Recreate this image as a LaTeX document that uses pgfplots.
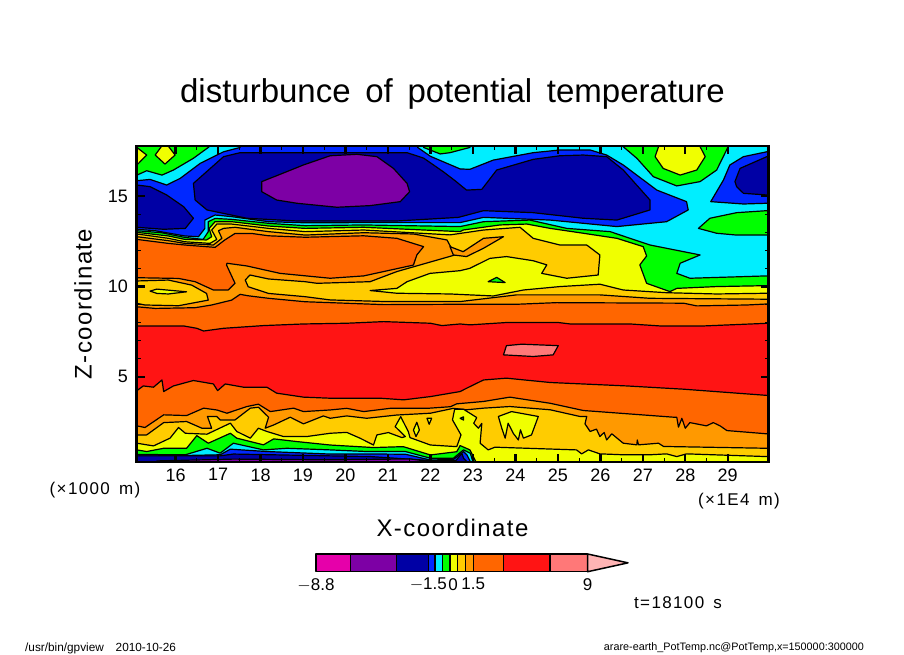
\documentclass[border=0pt]{standalone}
\usepackage{fontspec}
\setmainfont{Liberation Sans}
\newfontfamily\titlefont[WordSpace=1.6]{Liberation Sans}
\newfontfamily\labelfont[LetterSpace=6,WordSpace=1.5]{Liberation Sans}
\newfontfamily\notefont[LetterSpace=8,WordSpace=1.5]{Liberation Sans}
\usepackage{pgfplots}
\pgfplotsset{compat=1.18}
\definecolor{cMag}{HTML}{E600AA}
\definecolor{cPur}{HTML}{7D00A5}
\definecolor{cNav}{HTML}{0000A5}
\definecolor{cBlu}{HTML}{0028FF}
\definecolor{cCya}{HTML}{00EEFF}
\definecolor{cGre}{HTML}{00FF00}
\definecolor{cYel}{HTML}{F0FF00}
\definecolor{cGol}{HTML}{FFCC00}
\definecolor{cAmb}{HTML}{FF9900}
\definecolor{cOra}{HTML}{FF6600}
\definecolor{cRed}{HTML}{FF1414}
\definecolor{cSal}{HTML}{FF7878}
\definecolor{cPin}{HTML}{FFB4B4}
\pgfplotsset{cell/.style={fill=#1,draw=black,line width=1.2pt,mark=none,line join=round}}
\begin{document}
\begin{tikzpicture}[x=1pt,y=1pt]
\path[use as bounding box] (0,0) rectangle (904,654);
\begin{axis}[
  at={(136.5pt,192pt)},anchor=south west,
  scale only axis,width=632pt,height=316pt,
  xmin=15.08,xmax=29.96,ymin=0.28,ymax=17.77,
  axis on top,
  axis line style={line width=2.6pt,black},
  xtick={16,17,18,19,20,21,22,23,24,25,26,27,28,29},
  ytick={5,10,15},
  minor x tick num=1,minor y tick num=4,
  tick align=inside,xtick pos=both,ytick pos=both,
  major tick length=8pt,minor tick length=4pt,
  major tick style={line width=2.4pt,black},
  minor tick style={line width=1pt,black},
  /pgf/number format/assume math mode=true,
  tick label style={font=\fontsize{18}{18}\selectfont},
  xticklabel style={yshift=-3pt},
  yticklabel style={xshift=-5pt},
  title={\titlefont\fontsize{33}{33}\selectfont disturbunce of potential temperature},
  title style={at={(axis description cs:0.5,1.146)},anchor=center},
  xlabel={\labelfont\fontsize{24}{24}\selectfont X-coordinate},
  xlabel style={at={(axis description cs:0.5,-0.209)},anchor=center},
  ylabel={\labelfont\fontsize{24}{24}\selectfont Z-coordinate},
  ylabel style={at={(axis description cs:-0.0847,0.5)},anchor=center,rotate=0},
]
% red background band
\addplot[cell=cRed] coordinates {(14.9,0)(30.2,0)(30.2,18)(14.9,18)} --cycle;
% upper half, warm to cold
\addplot[cell=cOra] coordinates {(14.9,7.81)(15.09,7.81)(16.19,7.81)(16.50,7.68)(16.66,7.53)(17.13,7.68)(18.07,7.83)(19.01,7.92)(20.03,7.96)(20.90,8.05)(22.00,7.96)(22.27,7.83)(22.70,7.92)(22.93,7.87)(23.79,8.00)(25.01,8.00)(25.29,7.92)(26.70,7.92)(27.41,7.81)(28.43,7.81)(29.96,7.96)(30.2,7.96)(30.2,18)(14.9,18)} --cycle;
\addplot[cell=cAmb] coordinates {(14.9,8.87)(15.09,8.87)(15.52,8.78)(16.46,8.82)(16.85,8.97)(17.32,9.24)(17.52,9.56)(17.71,9.48)(18.19,9.34)(19.05,9.15)(19.64,9.10)(20.90,8.99)(22.70,9.01)(24.03,9.01)(24.97,9.10)(27.96,9.07)(28.27,8.92)(29.45,8.97)(29.96,9.03)(30.2,9.03)(30.2,18)(14.9,18)} --cycle;
\addplot[cell=cOra] coordinates {(14.9,10.48)(15.09,10.48)(16.07,10.44)(16.46,10.26)(16.89,9.80)(17.24,9.80)(17.40,10.17)(17.20,11.18)(17.21,11.28)(17.68,11.13)(18.46,10.72)(19.64,10.45)(20.43,10.58)(21.60,11.18)(21.68,11.74)(21.84,12.20)(21.21,12.66)(20.43,12.80)(19.05,12.72)(18.19,12.80)(17.79,12.93)(17.40,12.93)(17.16,12.57)(16.93,12.16)(16.22,12.29)(15.83,12.38)(15.09,12.60)(14.9,12.60)} --cycle;
\addplot[cell=cGol] coordinates {(14.9,10.30)(15.09,10.30)(15.83,10.35)(16.38,10.07)(16.73,9.61)(16.77,9.24)(16.07,8.93)(15.28,8.97)(15.09,9.06)(14.9,9.06)} --cycle;
\addplot[cell=cYel] coordinates {(15.40,9.74)(15.56,9.85)(16.07,9.74)(16.26,9.70)(15.83,9.58)(15.56,9.61)} --cycle;
\addplot[cell=cGol] coordinates {(14.9,12.75)(15.09,12.75)(15.83,12.53)(16.22,12.38)(16.89,12.29)(17.09,12.66)(17.01,13.08)(17.13,13.21)(17.40,13.27)(18.19,13.03)(19.05,12.84)(20.43,12.97)(21.60,12.90)(22.39,12.57)(22.58,11.74)(21.21,10.82)(20.58,10.26)(19.33,10.17)(19.05,10.26)(18.19,10.41)(17.75,10.63)(17.64,10.35)(17.71,9.98)(18.19,9.61)(19.05,9.43)(19.64,9.25)(20.97,9.16)(22.70,9.16)(24.03,9.53)(25.99,9.53)(27.17,9.34)(29.96,9.29)(30.2,9.29)(30.2,18)(14.9,18)} --cycle;
\addplot[cell=cAmb] coordinates {(22.46,12.20)(22.54,11.74)(22.85,11.65)(23.25,12.11)(23.72,12.75)(23.25,12.66)(22.77,11.92)} --cycle;
\addplot[cell=cYel] coordinates {(14.9,12.90)(15.09,12.90)(15.83,12.66)(16.22,12.47)(16.81,12.38)(16.97,12.60)(16.85,13.12)(16.97,13.45)(17.32,13.45)(18.19,13.21)(19.05,13.03)(20.43,13.12)(22.46,12.85)(23.25,13.12)(24.11,13.27)(24.42,12.66)(25.05,12.29)(25.68,12.29)(25.99,11.74)(25.95,10.63)(25.21,10.45)(24.62,10.72)(24.74,11.19)(24.42,11.42)(23.79,11.65)(23.40,11.55)(22.93,11.00)(22.70,10.87)(21.99,10.72)(21.45,10.26)(21.21,9.89)(20.58,9.77)(21.21,9.62)(22.46,9.58)(23.48,9.47)(24.19,9.80)(25.05,9.99)(25.99,10.12)(26.54,9.80)(27.56,9.65)(28.74,9.58)(29.92,9.62)(30.2,9.62)(30.2,18)(14.9,18)} --cycle;
\addplot[cell=cGre] coordinates {(23.36,10.26)(23.56,10.50)(23.76,10.21)} --cycle;
\addplot[cell=cGre] coordinates {(14.9,12.99)(15.09,12.99)(15.83,12.79)(16.22,12.60)(16.73,12.57)(16.85,12.75)(16.79,13.21)(16.93,13.58)(17.32,13.58)(18.19,13.34)(19.05,13.21)(20.43,13.27)(22.70,13.03)(22.77,13.12)(23.64,13.40)(24.27,13.45)(24.82,13.21)(25.60,12.94)(26.39,12.66)(27.01,12.20)(27.09,11.68)(26.93,11.19)(27.09,10.17)(27.64,9.71)(27.80,9.89)(28.74,9.99)(29.92,10.04)(30.2,10.04)(30.2,18)(14.9,18)} --cycle;
\addplot[cell=cCya] coordinates {(14.9,13.08)(15.09,13.08)(15.67,12.97)(16.22,12.71)(16.65,12.60)(16.77,13.03)(16.77,13.58)(16.93,13.76)(17.32,13.71)(18.19,13.49)(19.05,13.36)(20.43,13.40)(22.70,13.31)(23.25,13.58)(24.34,13.67)(25.21,13.21)(26.23,13.03)(27.17,12.29)(28.35,11.74)(27.88,11.28)(27.80,10.72)(28.11,10.45)(29.92,10.58)(30.2,10.58)(30.2,18)(14.9,18)} --cycle;
% top edge patches
\addplot[cell=cGre] coordinates {(14.9,16.16)(15.09,16.16)(15.32,16.40)(15.68,16.16)(15.95,16.44)(16.42,17.09)(16.77,17.69)(16.9,18)(14.9,18)} --cycle;
\addplot[cell=cYel] coordinates {(15.52,17.27)(15.70,17.85)(15.80,17.85)(15.99,17.27)(15.75,16.77)} --cycle;
\addplot[cell=cYel] coordinates {(14.9,17.85)(15.09,17.69)(15.32,17.27)(15.09,16.72)(14.9,16.72)} --cycle;
\addplot[cell=cGre] coordinates {(21.84,18)(21.84,17.69)(22.23,17.33)(22.46,17.40)(22.93,17.69)(22.93,18)} --cycle;
\addplot[cell=cGre] coordinates {(26.54,18)(26.54,17.73)(26.86,17.09)(27.25,16.07)(27.80,15.56)(28.35,15.80)(28.74,16.44)(29.01,17.73)(29.01,18)} --cycle;
\addplot[cell=cYel] coordinates {(27.37,18)(27.37,17.73)(27.29,17.18)(27.48,16.53)(27.88,16.16)(28.27,16.44)(28.47,17.18)(28.35,17.73)(28.35,18)} --cycle;
\addplot[cell=cGre] coordinates {(28.31,13.21)(28.58,13.77)(29.21,14.08)(29.92,14.19)(30.2,14.19)(30.2,12.84)(29.92,12.84)(29.21,12.84)(28.74,12.94)} --cycle;
% cold pools
\addplot[cell=cBlu] coordinates {(14.9,13.16)(15.09,13.16)(15.52,13.08)(16.22,12.79)(16.54,12.75)(16.69,13.21)(16.69,13.67)(16.93,13.95)(17.32,13.86)(18.19,13.58)(19.05,13.52)(20.43,13.53)(22.70,13.53)(23.25,13.82)(24.82,13.67)(26.39,13.31)(27.56,13.58)(28.07,14.23)(28.03,14.69)(27.33,15.33)(26.54,16.72)(26.15,17.27)(25.76,17.55)(25.05,17.55)(24.42,17.40)(23.48,16.99)(22.93,16.48)(22.70,16.50)(22.40,16.80)(22.00,17.20)(21.70,17.69)(21.70,18)(17.52,18)(17.52,17.69)(17.13,17.45)(16.58,16.81)(16.11,15.98)(15.79,15.61)(15.40,15.92)(15.09,15.85)(14.9,15.85)} --cycle;
\addplot[cell=cBlu] coordinates {(28.60,14.69)(28.90,15.89)(29.05,16.72)(29.37,17.18)(29.92,17.45)(30.2,17.45)(30.2,14.60)(29.92,14.60)(29.37,14.56)} --cycle;
\addplot[cell=cNav] coordinates {(14.9,15.61)(15.09,15.61)(15.40,15.52)(15.79,15.06)(16.19,14.41)(16.42,13.77)(16.23,13.21)(15.72,13.16)(15.09,13.27)(14.9,13.27)} --cycle;
\addplot[cell=cNav] coordinates {(16.42,15.70)(16.46,14.78)(16.74,14.23)(17.68,13.77)(18.86,13.62)(21.21,13.62)(22.66,13.82)(23.25,14.19)(24.42,14.08)(25.60,13.77)(26.39,13.67)(27.17,14.23)(27.17,14.78)(26.54,16.44)(26.15,17.18)(25.60,17.27)(25.05,17.23)(24.42,17.03)(23.56,16.44)(23.21,15.37)(22.85,15.33)(22.58,15.85)(22.30,16.35)(21.84,17.10)(21.45,17.40)(17.52,17.40)(17.13,17.18)} --cycle;
\addplot[cell=cNav] coordinates {(29.17,15.80)(29.29,16.53)(29.92,17.18)(30.2,17.18)(30.2,15.06)(29.92,15.06)(29.37,15.15)(29.21,15.52)} --cycle;
\addplot[cell=cPur] coordinates {(18.03,15.80)(18.62,16.35)(19.01,16.72)(19.64,17.23)(20.27,17.31)(20.74,17.18)(21.13,16.53)(21.45,15.70)(21.51,15.24)(21.29,14.69)(20.58,14.47)(19.80,14.38)(18.86,14.60)(18.38,14.78)(18.03,15.24)} --cycle;
% lower half
\addplot[cell=cOra] coordinates {(14.9,4.23)(15.09,4.23)(15.24,4.49)(15.48,4.42)(15.68,4.82)(15.72,4.18)(15.95,4.49)(16.42,4.79)(16.89,4.60)(16.99,4.23)(17.17,4.60)(17.60,4.42)(18.15,4.42)(18.38,4.09)(19.01,3.87)(19.64,3.81)(20.82,3.81)(21.37,3.72)(22.00,3.90)(22.70,4.18)(22.85,4.36)(23.25,4.82)(23.79,4.92)(24.82,4.68)(26.62,4.49)(27.96,4.31)(29.96,3.96)(30.2,3.96)(30.2,0)(14.9,0)} --cycle;
\addplot[cell=cAmb] coordinates {(14.9,2.28)(15.09,2.28)(15.28,2.19)(15.72,2.89)(16.26,2.85)(16.66,3.26)(16.97,3.16)(17.21,2.98)(17.68,3.35)(17.95,3.48)(18.23,3.07)(18.78,3.26)(19.01,3.07)(19.64,3.16)(20.03,3.25)(20.43,3.07)(21.05,3.25)(21.92,3.25)(22.47,3.34)(22.62,3.50)(23.25,3.63)(23.87,3.87)(24.82,3.53)(25.60,3.13)(27.72,2.76)(27.80,2.76)(27.84,2.21)(27.92,2.70)(28.00,2.15)(28.11,2.46)(28.50,2.28)(28.66,2.46)(28.82,2.28)(28.98,2.02)(29.92,1.84)(30.2,1.84)(30.2,0)(14.9,0)} --cycle;
\addplot[cell=cGol] coordinates {(14.9,1.78)(15.09,1.78)(15.32,1.78)(15.72,2.46)(16.26,2.52)(16.62,2.15)(16.85,2.15)(16.75,2.80)(16.97,2.80)(17.05,2.61)(17.40,2.61)(17.76,3.26)(17.95,3.31)(18.19,2.76)(18.11,2.15)(18.31,2.33)(18.70,2.76)(19.01,2.39)(19.48,2.83)(19.64,2.70)(20.03,2.83)(20.50,2.70)(21.21,2.88)(22.00,2.98)(22.54,3.25)(22.85,3.17)(23.25,3.26)(23.87,3.35)(24.82,3.17)(25.52,2.80)(25.68,2.80)(25.64,2.39)(25.76,1.97)(25.91,2.10)(25.99,1.69)(26.09,1.91)(26.15,1.50)(26.27,1.84)(26.54,1.32)(26.86,1.23)(26.87,1.50)(26.90,1.23)(27.37,1.32)(27.49,1.14)(29.92,1.04)(30.2,1.04)(30.2,0)(14.9,0)} --cycle;
\addplot[cell=cYel] coordinates {(14.9,1.32)(15.09,1.32)(15.48,1.17)(15.87,1.60)(16.07,2.19)(16.23,1.87)(16.74,1.82)(17.29,2.43)(17.44,1.97)(17.76,1.60)(17.95,2.15)(18.15,1.97)(18.54,1.69)(19.09,1.69)(19.64,1.87)(20.03,1.92)(20.35,1.59)(20.66,1.22)(20.74,1.78)(21.01,1.91)(21.33,1.63)(21.41,1.69)(21.17,2.24)(21.30,2.79)(21.48,1.96)(21.52,1.63)(22.00,1.22)(22.62,1.13)(22.72,1.78)(22.52,2.61)(22.57,3.20)(22.78,3.20)(23.09,2.74)(23.02,2.42)(23.13,2.15)(23.21,2.42)(23.17,1.32)(23.36,0.95)(23.52,1.10)(24.27,1.04)(25.44,0.95)(25.56,0.73)(25.72,0.95)(25.99,0.73)(26.54,0.68)(27.17,0.68)(27.56,0.73)(27.80,0.58)(28.03,0.73)(28.66,0.68)(29.92,0.58)(30.2,0.58)(30.2,0)(14.9,0)} --cycle;
\addplot[cell=cYel] coordinates {(23.60,2.80)(23.91,3.07)(24.54,2.80)(24.38,1.78)(24.19,1.60)(24.12,2.06)(24.07,1.50)(23.95,1.87)(23.83,2.43)(23.76,1.60)(23.68,2.15)} --cycle;
\addplot[cell=cYel] coordinates {(21.60,2.05)(21.68,2.48)(21.74,2.05)(21.66,1.69)} --cycle;
\addplot[cell=cYel] coordinates {(21.92,2.70)(22.03,2.70)(21.97,2.37)} --cycle;
\addplot[cell=cGre] coordinates {(22.70,2.70)(22.78,2.78)(22.78,2.60)} --cycle;
\addplot[cell=cGre] coordinates {(14.9,0.95)(15.09,0.95)(15.32,0.86)(15.72,1.04)(16.26,1.04)(16.50,1.74)(16.77,1.32)(17.29,1.87)(17.44,1.60)(18.07,1.23)(18.31,1.56)(18.86,1.41)(19.64,1.22)(20.66,1.08)(21.36,1.13)(22.00,0.67)(22.62,0.85)(22.70,1.19)(22.93,0.95)(23.07,0.30)(23.07,0)(14.9,0)} --cycle;
\addplot[cell=cCya] coordinates {(14.9,0.70)(16.23,0.68)(16.74,1.04)(17.05,0.77)(17.36,1.32)(18.07,0.95)(18.62,1.04)(19.64,0.95)(20.50,0.86)(21.41,0.86)(22.00,0.49)(22.54,0.49)(22.78,0.95)(22.94,0.76)(23.00,0.30)(23.00,0)(14.9,0)} --cycle;
\addplot[cell=cBlu] coordinates {(14.9,0.68)(16.23,0.64)(17.05,0.68)(17.29,0.99)(18.15,0.86)(19.64,0.72)(20.82,0.72)(21.41,0.71)(22.00,0.39)(22.54,0.42)(22.78,0.86)(22.86,0.67)(22.94,0.30)(22.94,0)(14.9,0)} --cycle;
\addplot[cell=cNav] coordinates {(14.9,0.62)(17.05,0.62)(17.36,0.72)(19.64,0.62)(20.60,0.58)(22.00,0.36)(22.60,0.36)(22.74,0.76)(22.78,0.49)(22.86,0.30)(22.86,0)(14.9,0)} --cycle;
\addplot[cell=cPur] coordinates {(15.56,0)(15.56,0.34)(17.36,0.44)(19.64,0.40)(21.52,0.45)(22.00,0.30)(22.62,0.30)(22.62,0)} --cycle;
% warmest patch
\addplot[cell=cSal] coordinates {(23.72,6.21)(23.79,6.72)(24.15,6.80)(25.01,6.72)(24.89,6.21)(24.42,6.12)} --cycle;
\end{axis}
% colour bar, x is the position along the bar
\begin{axis}[
  at={(316pt,82.3pt)},anchor=south west,
  scale only axis,width=312pt,height=17.7pt,
  xmin=316,xmax=628,ymin=0,ymax=1,clip=false,
  axis line style={draw=none},
  xtick={316,428.3,453,473.3,587.7},
  xticklabels={$-$8.8,$-$1.5,0,1.5,9},
  ytick=\empty,
  major tick length=0pt,
  tick label style={font=\fontsize{17}{17}\selectfont},
  xticklabel style={yshift=-3pt},
  cell/.append style={line width=1.5pt},
]
\addplot[cell=cMag] coordinates {(316,0)(350.7,0)(350.7,1)(316,1)} --cycle;
\addplot[cell=cPur] coordinates {(350.7,0)(396.7,0)(396.7,1)(350.7,1)} --cycle;
\addplot[cell=cNav] coordinates {(396.7,0)(428.3,0)(428.3,1)(396.7,1)} --cycle;
\addplot[cell=cBlu] coordinates {(428.3,0)(435,0)(435,1)(428.3,1)} --cycle;
\addplot[cell=cCya] coordinates {(435,0)(442.7,0)(442.7,1)(435,1)} --cycle;
\addplot[cell=cGre] coordinates {(442.7,0)(450,0)(450,1)(442.7,1)} --cycle;
\addplot[cell=cYel] coordinates {(450,0)(457.7,0)(457.7,1)(450,1)} --cycle;
\addplot[cell=cGol] coordinates {(457.7,0)(465.7,0)(465.7,1)(457.7,1)} --cycle;
\addplot[cell=cAmb] coordinates {(465.7,0)(473.3,0)(473.3,1)(465.7,1)} --cycle;
\addplot[cell=cOra] coordinates {(473.3,0)(503.3,0)(503.3,1)(473.3,1)} --cycle;
\addplot[cell=cRed] coordinates {(503.3,0)(550,0)(550,1)(503.3,1)} --cycle;
\addplot[cell=cSal] coordinates {(550,0)(587.7,0)(587.7,1)(550,1)} --cycle;
\addplot[cell=cPin] coordinates {(587.7,0)(628,0.5)(587.7,1)} --cycle;
\end{axis}
\node[font=\notefont\fontsize{17}{17}\selectfont] at (95,164) {(×1000 m)};
\node[font=\notefont\fontsize{17}{17}\selectfont] at (739,153) {(×1E4 m)};
\node[font=\notefont\fontsize{17}{17}\selectfont] at (678,51) {t=18100 s};
\node[font=\fontsize{11.8}{12}\selectfont,anchor=west,inner sep=0pt] at (25,6) {/usr/bin/gpview\quad 2010-10-26};
\node[font=\fontsize{10.8}{11}\selectfont,anchor=east,inner sep=0pt] at (864,6) {arare-earth\_PotTemp.nc@PotTemp,x=150000:300000};
\end{tikzpicture}
\end{document}
